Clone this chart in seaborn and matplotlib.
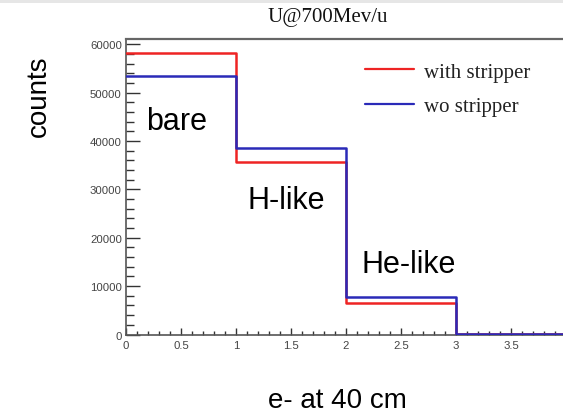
import numpy as np
import pandas as pd
import matplotlib
matplotlib.use("Agg")
import matplotlib.pyplot as plt
from matplotlib.ticker import MultipleLocator
from matplotlib.lines import Line2D
from matplotlib.patches import Rectangle
import seaborn as sns

# ---- data ----
bin_edges = [0, 1, 2, 3, 4]
bin_centers = [0.5, 1.5, 2.5, 3.5]
with_stripper = [58300, 35700, 6610, 100]
wo_stripper = [53400, 38600, 7790, 100]
series_names = ["with stripper", "wo stripper"]
state_labels = ["bare", "H-like", "He-like"]
title = "U@700Mev/u"
xlabel = "e- at 40 cm"
ylabel = "counts"

sns.set_style("white")
plt.rcParams["font.family"] = ["Liberation Sans", "DejaVu Sans"]

W, H = 563, 414
fig = plt.figure(figsize=(W / 100, H / 100), dpi=100)
fig.patch.set_facecolor("white")
fig.patches.append(Rectangle((0, 1 - 4 / H), 1, 4 / H, transform=fig.transFigure,
                             facecolor="#e6e6e6", edgecolor="none", zorder=0))

x0, x1 = 126, 126 + 4 * 110
y0, y1 = 335.5, 39.5
ax = fig.add_axes([x0 / W, 1 - y0 / H, (x1 - x0) / W, (y0 - y1) / H])

red = "#ee2424"
blue = "#2a2ab8"
df_w = pd.DataFrame({"x": bin_centers, "counts": with_stripper})
df_o = pd.DataFrame({"x": bin_centers, "counts": wo_stripper})
sns.histplot(data=df_w, x="x", weights="counts", bins=bin_edges, element="step",
             fill=False, color=red, linewidth=1.8, ax=ax, zorder=3)
sns.histplot(data=df_o, x="x", weights="counts", bins=bin_edges, element="step",
             fill=False, color=blue, linewidth=1.8, ax=ax, zorder=4)

ax.set_xlim(0, 4)
ax.set_ylim(0, 1.05 * max(with_stripper + wo_stripper))
ax.set_xlabel("")
ax.set_ylabel("")

ax.xaxis.set_major_locator(MultipleLocator(0.5))
ax.xaxis.set_minor_locator(MultipleLocator(0.1))
ax.yaxis.set_major_locator(MultipleLocator(10000))
ax.yaxis.set_minor_locator(MultipleLocator(2000))
ax.xaxis.set_major_formatter(matplotlib.ticker.FuncFormatter(
    lambda v, p: "" if v > 3.9 else f"{v:g}"))
ax.yaxis.set_major_formatter(matplotlib.ticker.FuncFormatter(lambda v, p: f"{v:.0f}"))

tick_col = "#333333"
ax.tick_params(axis="y", which="major", direction="in", length=10, width=1.0,
               color=tick_col, labelsize=8.2, labelcolor="#444444", pad=3, left=True)
ax.tick_params(axis="y", which="minor", direction="in", length=5.5, width=1.0,
               color=tick_col, left=True)
ax.tick_params(axis="x", which="major", direction="in", length=5, width=1.0,
               color=tick_col, labelsize=8.2, labelcolor="#444444", pad=4, bottom=True)
ax.tick_params(axis="x", which="minor", direction="in", length=2.8, width=1.0,
               color=tick_col, bottom=True)

for s in ["left", "bottom", "top", "right"]:
    ax.spines[s].set_visible(True)
    ax.spines[s].set_color("#666666")
    ax.spines[s].set_linewidth(1.6)
ax.spines["left"].set_color("#555555")
ax.spines["left"].set_linewidth(1.2)
ax.spines["bottom"].set_color("#555555")
ax.spines["bottom"].set_linewidth(1.2)
ax.grid(False)

# legend
handles = [Line2D([], [], color=red, lw=1.6), Line2D([], [], color=blue, lw=1.6)]
leg = ax.legend(handles, series_names, loc="upper left",
                bbox_to_anchor=(365 / W, 1 - 63 / H), bbox_transform=fig.transFigure,
                frameon=False, borderpad=0, borderaxespad=0, handlelength=2.35,
                handletextpad=0.5, labelspacing=0.72,
                prop={"family": "Liberation Serif", "size": 15})
for t in leg.get_texts():
    t.set_color("#222222")

# state annotations
for lab, (px, py) in zip(state_labels, [(146, 130), (247, 209), (362, 273)]):
    fig.text(px / W, 1 - py / H, lab, ha="left", va="baseline", fontsize=22,
             family="Liberation Sans", color="black")

fig.text(328 / W, 1 - 22 / H, title, ha="center", va="baseline", fontsize=15,
         family="Liberation Serif", color="#111111")
fig.text(337 / W, 1 - 408 / H, xlabel, ha="center", va="baseline", fontsize=20,
         family="Liberation Sans", color="black")
fig.text(46 / W, 1 - 96 / H, ylabel, ha="center", va="baseline", fontsize=20,
         family="Liberation Sans", color="black", rotation=90, rotation_mode="anchor")

fig.savefig("out.png", dpi=100)
